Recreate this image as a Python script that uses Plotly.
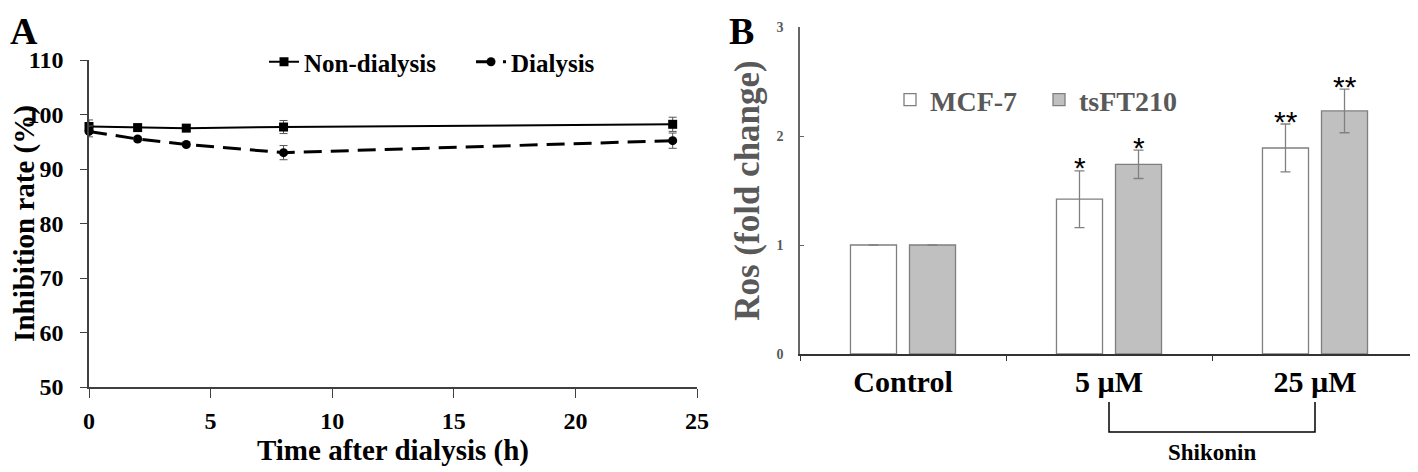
import plotly.graph_objects as go

# ---------------- Panel A data ----------------
time_h = [0, 2, 4, 8, 24]
non_dialysis = [97.8, 97.6, 97.5, 97.7, 98.2]
non_dialysis_err = [1.2, 0.5, 0.5, 1.2, 1.3]
dialysis = [96.9, 95.5, 94.5, 93.0, 95.2]
dialysis_err = [1.0, 0.4, 0.4, 1.3, 1.4]
a_yticks = [50, 60, 70, 80, 90, 100, 110]
a_xticks = [0, 5, 10, 15, 20, 25]

# ---------------- Panel B data ----------------
categories = ["Control", "5 µM", "25 µM"]
mcf7 = [1.0, 1.42, 1.89]
mcf7_err = [None, 0.26, 0.22]
tsft210 = [1.0, 1.74, 2.23]
tsft210_err = [None, 0.13, 0.20]
stars_mcf7 = ["", "*", "**"]
stars_tsft210 = ["", "*", "**"]
b_yticks = [0, 1, 2, 3]

SERIF = "Liberation Serif"
GREY_TXT = "#595959"
W, H = 1418, 472
OFF = 8  # page body margin compensation


def px(xp):
    return (xp - OFF) / W


def py(yp):
    return 1 - (yp - OFF) / H


fig = go.Figure()

# Panel A traces
fig.add_trace(go.Scatter(
    x=time_h, y=non_dialysis, name="Non-dialysis", mode="lines+markers",
    line=dict(color="black", width=2),
    marker=dict(symbol="square", size=9, color="black"),
    error_y=dict(type="data", array=non_dialysis_err, color="#555555", thickness=1, width=4),
    cliponaxis=False, xaxis="x", yaxis="y", legend="legend"))
fig.add_trace(go.Scatter(
    x=time_h, y=dialysis, name="Dialysis", mode="lines+markers",
    line=dict(color="black", width=3, dash="18px,9px"),
    marker=dict(symbol="circle", size=9, color="black"),
    error_y=dict(type="data", array=dialysis_err, color="#555555", thickness=1, width=4),
    cliponaxis=False, xaxis="x", yaxis="y", legend="legend"))

# Panel B traces
fig.add_trace(go.Bar(
    x=categories, y=mcf7, name="MCF-7",
    marker=dict(color="white", line=dict(color="#7f7f7f", width=1.3)),
    error_y=dict(type="data", array=mcf7_err, color="#808080", thickness=1.3, width=5),
    xaxis="x2", yaxis="y2", legend="legend2"))
fig.add_trace(go.Bar(
    x=categories, y=tsft210, name="tsFT210",
    marker=dict(color="#c0c0c0", line=dict(color="#7f7f7f", width=1.3)),
    error_y=dict(type="data", array=tsft210_err, color="#808080", thickness=1.3, width=5),
    xaxis="x2", yaxis="y2", legend="legend2"))

annotations = []
# significance stars
for i, cat in enumerate(categories):
    for vals, errs, stars, off in ((mcf7, mcf7_err, stars_mcf7, -29.5),
                                   (tsft210, tsft210_err, stars_tsft210, 29.5)):
        if stars[i]:
            annotations.append(dict(
                x=i, xref="x2", xshift=off, y=vals[i] + (errs[i] or 0), yref="y2",
                text=stars[i], showarrow=False, yanchor="middle", yshift=3,
                font=dict(family="Liberation Sans", size=30, color="black")))

# panel letters
annotations.append(dict(x=0.0, y=1.0, xref="paper", yref="paper", xanchor="left", yanchor="top",
                        text="A", showarrow=False,
                        font=dict(family=SERIF, size=38, color="black", weight="bold")))
annotations.append(dict(x=px(727), y=1.0, xref="paper", yref="paper", xanchor="left", yanchor="top",
                        text="B", showarrow=False,
                        font=dict(family=SERIF, size=38, color="black", weight="bold")))
# Shikonin bracket label
annotations.append(dict(x=1.5, xref="x2", y=py(452), yref="paper", text="Shikonin",
                        showarrow=False, yanchor="middle",
                        font=dict(family=SERIF, size=23, color="black", weight="bold")))

shapes = [dict(type="path", xref="x2", yref="paper",
               path=f"M 1,{py(402)} L 1,{py(432)} L 2,{py(432)} L 2,{py(402)}",
               line=dict(color="black", width=1.5))]

axis_font = dict(family=SERIF, size=24, color="black", weight="bold")

fig.update_layout(
    width=W, height=H, margin=dict(l=0, r=0, t=0, b=0, autoexpand=False),
    paper_bgcolor="white", plot_bgcolor="white",
    barmode="group", bargap=0.427, bargroupgap=0.22,
    showlegend=True,
    xaxis=dict(domain=[px(89), px(697)], range=[0, 25], tickvals=a_xticks,
               showline=True, linecolor="#404040", linewidth=1.5, ticks="outside", ticklen=9,
               tickcolor="#404040", showgrid=False, zeroline=False, tickfont=axis_font,
               ticklabelstandoff=2, automargin=False,
               title=dict(text="Time after dialysis (h)", standoff=4,
                          font=dict(family=SERIF, size=29, color="black", weight="bold")),
               anchor="y"),
    yaxis=dict(domain=[py(387), py(60)], range=[50, 110], tickvals=a_yticks,
               showline=True, linecolor="#404040", linewidth=1.5, ticks="outside", ticklen=7,
               tickcolor="#404040", showgrid=False, zeroline=False, tickfont=axis_font,
               ticklabelstandoff=12, automargin=False,
               title=dict(text="Inhibition rate (%)", standoff=4,
                          font=dict(family=SERIF, size=29, color="black", weight="bold")),
               anchor="x"),
    xaxis2=dict(domain=[px(800), px(1418)], type="category", categoryorder="array",
                categoryarray=categories, tickson="boundaries",
                showline=True, linecolor="#333333", linewidth=1.5, ticks="outside", ticklen=5,
                tickcolor="#333333", showgrid=False, zeroline=False, automargin=False,
                tickfont=dict(family=SERIF, size=30, color="black", weight="bold"),
                anchor="y2"),
    yaxis2=dict(domain=[py(354), py(27)], range=[0, 3], tickvals=b_yticks,
                showline=True, linecolor="#666666", linewidth=1.5, ticks="inside", ticklen=4,
                tickcolor="#666666", showgrid=False, zeroline=False, automargin=False,
                ticklabelstandoff=12,
                tickfont=dict(family=SERIF, size=14, color=GREY_TXT, weight="bold"),
                title=dict(text="Ros (fold change)", standoff=6,
                           font=dict(family=SERIF, size=35, color=GREY_TXT, weight="bold")),
                anchor="x2"),
    legend=dict(orientation="h", x=px(264), y=py(62), xanchor="left", yanchor="middle",
                bgcolor="rgba(0,0,0,0)", itemwidth=30, entrywidth=162, entrywidthmode="pixels",
                font=dict(family=SERIF, size=25, color="black", weight="bold")),
    legend2=dict(orientation="h", x=px(890), y=py(100), xanchor="left", yanchor="middle",
                 bgcolor="rgba(0,0,0,0)", itemwidth=30, entrywidth=104, entrywidthmode="pixels",
                 font=dict(family=SERIF, size=28, color=GREY_TXT, weight="bold")),
    annotations=annotations, shapes=shapes,
)

fig.write_html("out.html")
